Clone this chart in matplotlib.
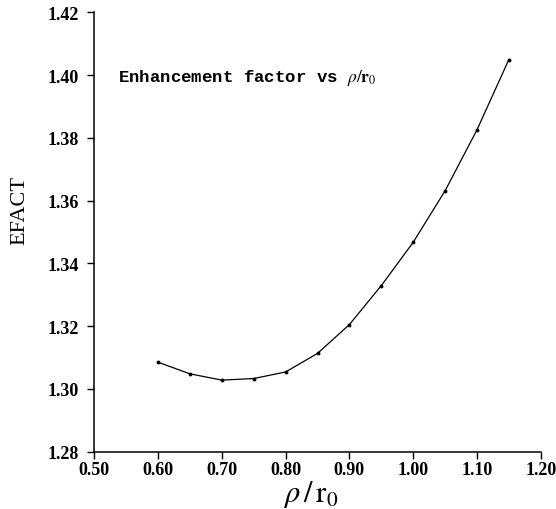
import numpy as np
import matplotlib
matplotlib.use('Agg')
import matplotlib.pyplot as plt

# data
rho_r0 = [0.60, 0.65, 0.70, 0.75, 0.80, 0.85, 0.90, 0.95, 1.00, 1.05, 1.10, 1.15]
efact = [1.3085, 1.3048, 1.3028, 1.3033, 1.3054, 1.3113, 1.3205, 1.3329,
         1.3467, 1.3631, 1.3825, 1.4049]

xticks = [0.50, 0.60, 0.70, 0.80, 0.90, 1.00, 1.10, 1.20]
yticks = [1.28, 1.30, 1.32, 1.34, 1.36, 1.38, 1.40, 1.42]

plt.rcParams['mathtext.fontset'] = 'stix'

fig = plt.figure(figsize=(5.56, 5.10), dpi=100)
ax = fig.add_axes([0.1696, 0.1124, 0.9725 - 0.1696, 0.974 - 0.1124])

ax.plot(rho_r0, efact, color='black', linewidth=0.9, marker='o', markersize=1.8)

ax.set_xlim(0.50, 1.20)
ax.set_ylim(1.28, 1.42)
ax.set_xticks(xticks)
ax.set_yticks(yticks)
tick_font = dict(fontfamily='Liberation Serif', fontweight='bold', fontsize=13)
ax.set_xticklabels(['%.2f' % v for v in xticks], **tick_font)
ax.set_yticklabels(['%.2f' % v for v in yticks], **tick_font)
ax.tick_params(axis='x', direction='out', length=5, width=1, pad=2)
ax.tick_params(axis='y', direction='out', length=5, width=1, pad=6)

for s in ['top', 'right']:
    ax.spines[s].set_visible(False)
for s in ['left', 'bottom']:
    ax.spines[s].set_linewidth(1.1)

ax.set_ylabel('EFACT', fontfamily='Liberation Serif', fontsize=16)
ax.yaxis.set_label_coords(-0.146, 0.55)
ax.set_xlabel(r'$\rho\,/\,\mathrm{r}_0$', fontsize=22)
ax.xaxis.set_label_coords(0.485, -0.061)

ax.text(0.537, 1.3994, r'Enhancement factor vs $\rho/\mathbf{r}_0$',
        fontfamily='Liberation Mono', fontweight='bold', fontsize=12.5,
        va='center', ha='left')

fig.savefig('out.png', dpi=100)
